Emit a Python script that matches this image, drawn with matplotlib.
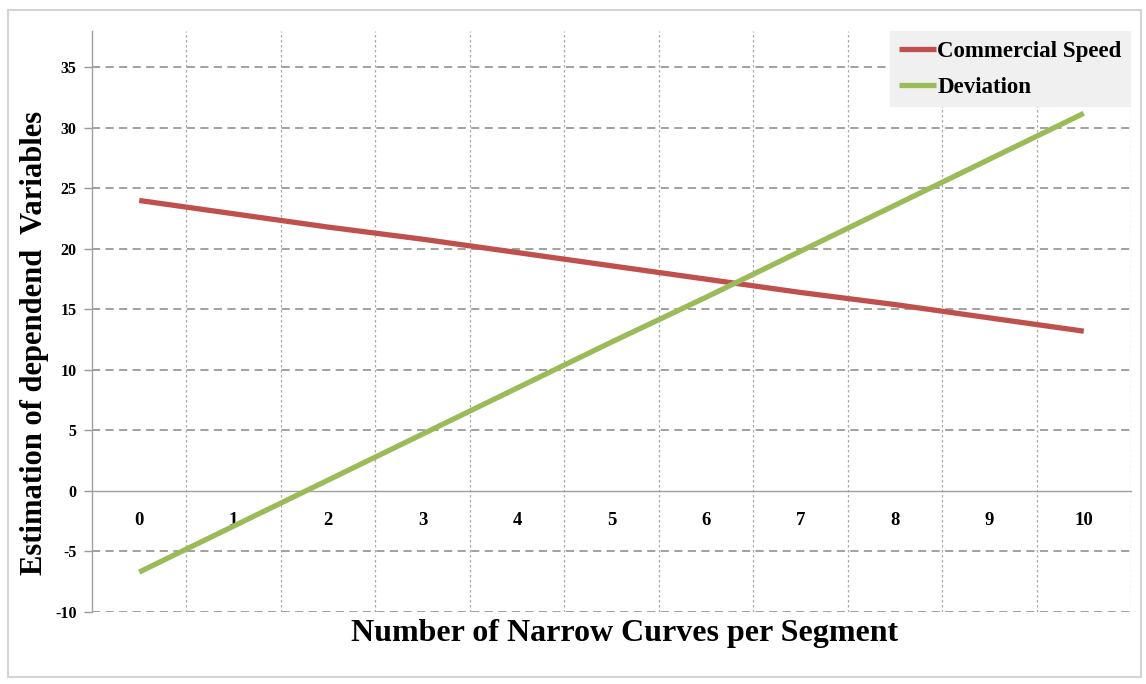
import matplotlib
matplotlib.use("Agg")
import matplotlib.pyplot as plt
from matplotlib.patches import Rectangle

categories = [0, 1, 2, 3, 4, 5, 6, 7, 8, 9, 10]
commercial_speed = [24.0, 22.9, 21.8, 20.8, 19.7, 18.6, 17.5, 16.4, 15.4, 14.3, 13.2]
deviation = [-6.7, -2.9, 0.9, 4.7, 8.5, 12.3, 16.0, 19.8, 23.6, 27.4, 31.2]
y_ticks = [-10, -5, 0, 5, 10, 15, 20, 25, 30, 35]

plt.rcParams['font.family'] = ['Liberation Serif', 'DejaVu Serif']
plt.rcParams['font.weight'] = 'bold'
plt.rcParams['axes.unicode_minus'] = False

W, H = 1146, 684
fig = plt.figure(figsize=(W / 100, H / 100), dpi=100)
ax = fig.add_axes([92 / W, 1 - 612 / H, (1131 - 92) / W, (612 - 31) / H])

grid_c = '#9a9a9a'
# horizontal dashed gridlines
for yv in y_ticks:
    if yv == 0:
        continue
    ax.axhline(yv, color=grid_c, lw=1.3, dashes=(4.5, 3), zorder=1)
# vertical dotted gridlines at category boundaries
for i in range(len(categories)):
    ax.axvline(categories[i] + 0.5, color='#aaaaaa', lw=0.9, dashes=(2, 2), zorder=1)

ax.plot(categories, commercial_speed, color='#c0504d', lw=3.8, label='Commercial Speed',
        solid_capstyle='butt', zorder=3)
ax.plot(categories, deviation, color='#9bbb59', lw=3.8, label='Deviation',
        solid_capstyle='butt', zorder=3)

ax.set_xlim(-0.5, 10.5)
ax.set_ylim(-10, 38)
ax.set_yticks(y_ticks)
ax.set_xticks(categories)
ax.set_xticklabels([str(c) for c in categories])

for s in ['top', 'right']:
    ax.spines[s].set_visible(False)
ax.spines['left'].set_color('#a0a0a0')
ax.spines['left'].set_linewidth(1.0)
ax.spines['bottom'].set_position(('data', 0))
ax.spines['bottom'].set_color('#a0a0a0')
ax.spines['bottom'].set_linewidth(1.0)

ax.tick_params(axis='y', length=6, width=1.0, color=grid_c, pad=5, labelsize=11.5)
ax.tick_params(axis='x', length=0, pad=15, labelsize=13.5)
for lab in ax.get_xticklabels() + ax.get_yticklabels():
    lab.set_fontweight('bold')

leg = ax.legend(loc='upper right', bbox_to_anchor=(1.0, 1.0), borderaxespad=0,
                frameon=True, fancybox=False, facecolor='#f0f0f0', edgecolor='none',
                framealpha=1, handlelength=1.6, handletextpad=0.05, labelspacing=0.65,
                borderpad=0.42, prop={'family': 'Liberation Serif', 'weight': 'bold', 'size': 16.5})
leg.set_zorder(5)

fig.text(625 / W, 1 - 633 / H, 'Number of Narrow Curves per Segment', ha='center', va='center',
         fontsize=23, fontweight='bold')
fig.text(35 / W, 1 - 343 / H, 'Estimation of dependend  Variables', ha='center', va='center',
         rotation=90, fontsize=22, fontweight='bold')

fig.patches.append(Rectangle((8 / W, 1 - 677 / H), (1141 - 8) / W, (677 - 10) / H,
                             transform=fig.transFigure, fill=False, edgecolor='#d4d4d4', lw=1.5))

fig.savefig('out.png', dpi=100)
